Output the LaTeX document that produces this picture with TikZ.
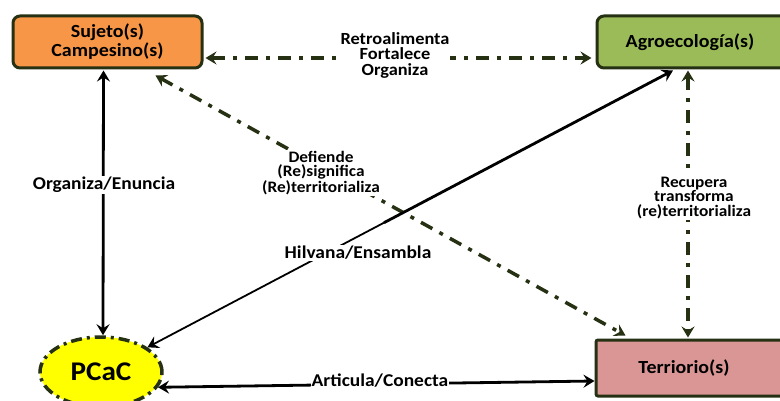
\documentclass[tikz,border=0pt]{standalone}
\usepackage{fontspec}
\setmainfont{Carlito}[FakeStretch=1.08]
\usetikzlibrary{arrows.meta,shapes.geometric,calc}
\definecolor{bord}{HTML}{263012}
\definecolor{orangebox}{HTML}{F79646}
\definecolor{greenbox}{HTML}{9BBB59}
\definecolor{pinkbox}{HTML}{D99694}
\definecolor{yellowell}{HTML}{FFFF00}
\tikzset{
  box/.style={draw=bord, line width=3pt, rounded corners=7pt, minimum width=189pt, minimum height=52pt, inner sep=0pt, align=center, font=\bfseries\fontsize{18.5}{19}\selectfont},
  tip/.tip={Stealth[length=11pt,width=13pt,inset=4pt]},
  solidarrow/.style={line width=2.8pt, black, tip-tip},
  dasharrow/.style={line width=3.5pt, bord, dash pattern=on 13pt off 8pt on 4pt off 8pt, tip-tip},
  lab/.style={fill=white, inner sep=1pt, align=center, font=\bfseries\fontsize{18}{15}\selectfont},
  labm/.style={fill=white, inner sep=1pt, align=center, font=\bfseries\fontsize{17}{15.5}\selectfont},
  labs/.style={fill=white, inner sep=1pt, align=center, font=\bfseries\fontsize{16}{14.5}\selectfont}
}
\begin{document}
\begin{tikzpicture}[x=1pt,y=-1pt]
\useasboundingbox (0,0) rectangle (780,401);
\fill[white] (0,0) rectangle (780,401);
\node[box, fill=orangebox] (suj) at (107.5,42) {Sujeto(s)\\Campesino(s)};
\node[box, fill=greenbox, minimum width=192pt] (agro) at (693,42) {\hspace*{-6pt}Agroecología(s)};
\node[box, fill=pinkbox, rounded corners=2pt, minimum width=192pt, minimum height=56pt] (terr) at (692,368) {\hspace*{-16pt}Terriorio(s)};
\node[ellipse, draw=bord, line width=3.5pt, dash pattern=on 11pt off 5pt on 3pt off 5pt, fill=yellowell, minimum width=122pt, minimum height=70pt, inner sep=0pt, font=\bfseries\fontsize{27}{28}\selectfont] (pcac) at (101,372) {PCaC};

% Sujeto <-> PCaC
\draw[solidarrow] ([xshift=-4pt,yshift=-1pt]suj.south) -- ([xshift=2pt]pcac.north);
\node[lab] (l1) at (104,185) {Organiza/Enuncia};

% Sujeto <-> Agro
\draw[dasharrow] ([xshift=2pt,yshift=-16pt]suj.east) -- ([xshift=-4pt,yshift=-16pt]agro.west);
\node[labm] (l2) at (395,55) {Retroalimenta\\Fortalece\\Organiza};

% Sujeto <-> Terr diagonal
\draw[dasharrow] ([xshift=48pt,yshift=-6pt]suj.south) -- ([xshift=31pt,yshift=3pt]terr.north west);
\node[labs] (l3) at (321,173) {Defiende\\(Re)significa\\(Re)territorializa};

% PCaC <-> Agro diagonal
\coordinate (hs) at ([xshift=-20pt,yshift=-1pt]agro.south);
\coordinate (hm) at ($(pcac.28)!0.45!(hs)$);
\draw[line width=1.8pt, black, tip-] (pcac.28) -- (hm);
\draw[line width=2.8pt, black, -tip] (hm) -- (hs);
\node[lab] (l4) at (358,253) {Hilvana/Ensambla};

% Agro <-> Terr
\draw[dasharrow] ([xshift=-5pt,yshift=-1pt]agro.south) -- ([xshift=-4pt,yshift=1pt]terr.north);
\node[labs] (l5) at (694,198) {Recupera\\transforma\\(re)territorializa};

% PCaC <-> Terr
\draw[solidarrow] (pcac.-15) -- ([yshift=-13pt]terr.west);
\node[lab] (l6) at (380,381) {Articula/Conecta};
\end{tikzpicture}
\end{document}
